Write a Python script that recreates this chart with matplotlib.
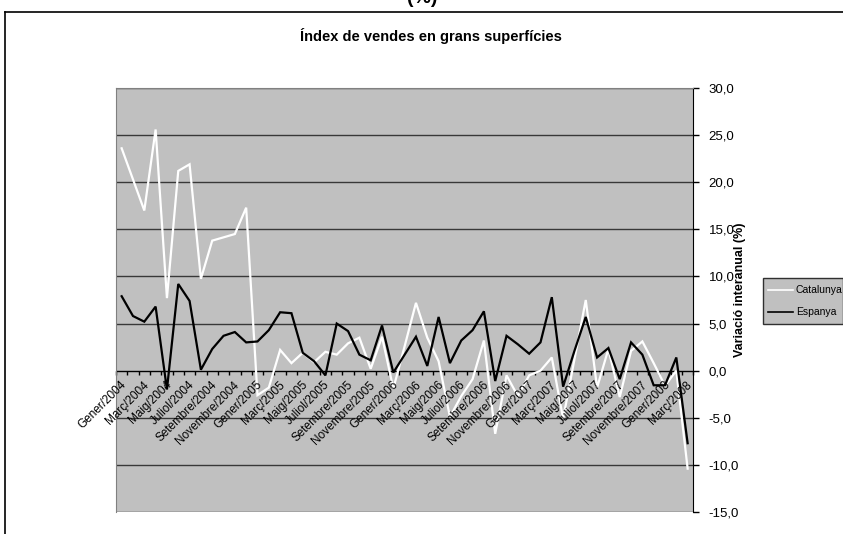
import matplotlib
matplotlib.use("Agg")
import matplotlib.pyplot as plt
from matplotlib.ticker import FuncFormatter, FixedLocator
from matplotlib.patches import Rectangle
from matplotlib.lines import Line2D

plt.rcParams['font.family'] = ['Liberation Sans', 'DejaVu Sans']

months = ["Gener", "Febrer", "Març", "Abril", "Maig", "Juny", "Juliol",
          "Agost", "Setembre", "Octubre", "Novembre", "Desembre"]
categories = [f"{months[m]}/{y}" for y in range(2004, 2009) for m in range(12)][:51]

catalunya = [23.6, 20.3, 17.0, 25.6, 7.7, 21.2, 21.9, 9.75, 13.8, 14.15, 14.5, 17.3,
             -2.6, -1.8, 2.2, 0.8, 1.9, 0.9, 2.0, 1.7, 2.9, 3.5, 0.2, 3.6,
             -1.9, 2.6, 7.2, 3.5, 1.0, -4.9, -2.7, -0.9, 3.2, -6.7, -0.5, -2.7,
             -0.5, 0.0, 1.4, -5.1, 1.2, 7.5, -1.8, 2.3, -2.8, 2.1, 3.1, 0.8,
             -1.6, 0.0, -10.4]
espanya = [7.9, 5.8, 5.2, 6.8, -2.0, 9.2, 7.4, 0.1, 2.3, 3.7, 4.1, 3.0,
           3.1, 4.3, 6.2, 6.1, 1.9, 1.0, -0.5, 5.0, 4.2, 1.7, 1.1, 4.8,
           -0.2, 1.7, 3.6, 0.5, 5.7, 0.8, 3.2, 4.3, 6.3, -1.1, 3.7, 2.8,
           1.8, 3.0, 7.8, -1.7, 2.1, 5.7, 1.4, 2.4, -0.9, 3.0, 1.7, -1.55,
           -1.55, 1.4, -7.7]
series_names = ["Catalunya", "Espanya"]
y_ticks = [-15, -10, -5, 0, 5, 10, 15, 20, 25, 30]

W, H = 843, 534
fig = plt.figure(figsize=(W / 100, H / 100), dpi=100)

def fx(x):
    return x / W

def fy(y):
    return 1 - y / H

# outer chart border (top and left visible)
fig.add_artist(Line2D([fx(5), fx(843)], [fy(12), fy(12)], color='black', lw=1.2))
fig.add_artist(Line2D([fx(5), fx(5)], [fy(12), fy(534)], color='black', lw=1.2))

# main title, cut off at the top edge as in the original
fig.text(fx(422), fy(3), "(%)", ha='center', va='baseline', fontsize=14, fontweight='bold')
# chart title
fig.text(fx(431), fy(36), "Índex de vendes en grans superfícies", ha='center', va='center',
         fontsize=10.5, fontweight='bold')

L, R, T, B = 116, 693.3, 88, 512
ax = fig.add_axes([fx(L), fy(B), (R - L) / W, (B - T) / H])
ax.set_facecolor('#C0C0C0')
n = len(categories)
x = list(range(n))
ax.set_xlim(-0.5, n - 0.5)
ax.set_ylim(-15, 30)

for v in y_ticks:
    ax.axhline(v, color='#383838', lw=1.0, zorder=1)

ax.plot(x, catalunya, color='white', lw=1.6, zorder=3, solid_joinstyle='miter')
ax.plot(x, espanya, color='black', lw=1.6, zorder=4, solid_joinstyle='miter')

for s in ['top', 'left']:
    ax.spines[s].set_color('#808080')
ax.spines['right'].set_color('black')
ax.spines['bottom'].set_position(('data', 0))
ax.spines['bottom'].set_color('black')
ax.spines['bottom'].set_zorder(2)

ax.yaxis.tick_right()
ax.set_yticks(y_ticks)
ax.yaxis.set_major_formatter(FuncFormatter(lambda v, p: f"{v:.1f}".replace('.', ',')))
ax.tick_params(axis='y', which='major', direction='out', length=4, width=1, pad=7,
               labelsize=9.5, colors='black')

ax.xaxis.set_major_locator(FixedLocator(x[::2]))
ax.set_xticklabels([])
ax.xaxis.set_minor_locator(FixedLocator([i - 0.5 for i in range(n + 1)]))
ax.tick_params(axis='x', which='major', length=0)
ax.tick_params(axis='x', which='minor', direction='out', length=3, width=1)

for i in x[::2]:
    ax.annotate(categories[i], xy=(i, 0), xytext=(-1, -6), textcoords='offset points',
                rotation=45, ha='right', va='top', rotation_mode='anchor',
                fontsize=8.5, zorder=5)

fig.text(fx(740), fy(290), "Variació interanual (%)", rotation=90, ha='center', va='center',
         fontsize=9, fontweight='bold')

# legend
fig.add_artist(Rectangle((fx(763), fy(324)), fx(843) - fx(763), fy(278) - fy(324),
                         facecolor='#C0C0C0', edgecolor='#303030', lw=1.0))
fig.add_artist(Line2D([fx(768), fx(793)], [fy(290), fy(290)], color='white', lw=1.2))
fig.add_artist(Line2D([fx(768), fx(793)], [fy(312), fy(312)], color='black', lw=1.2))
fig.text(fx(796), fy(290), series_names[0], ha='left', va='center', fontsize=7.5)
fig.text(fx(796), fy(312), series_names[1], ha='left', va='center', fontsize=7.5)

fig.savefig("out.png", dpi=100)
